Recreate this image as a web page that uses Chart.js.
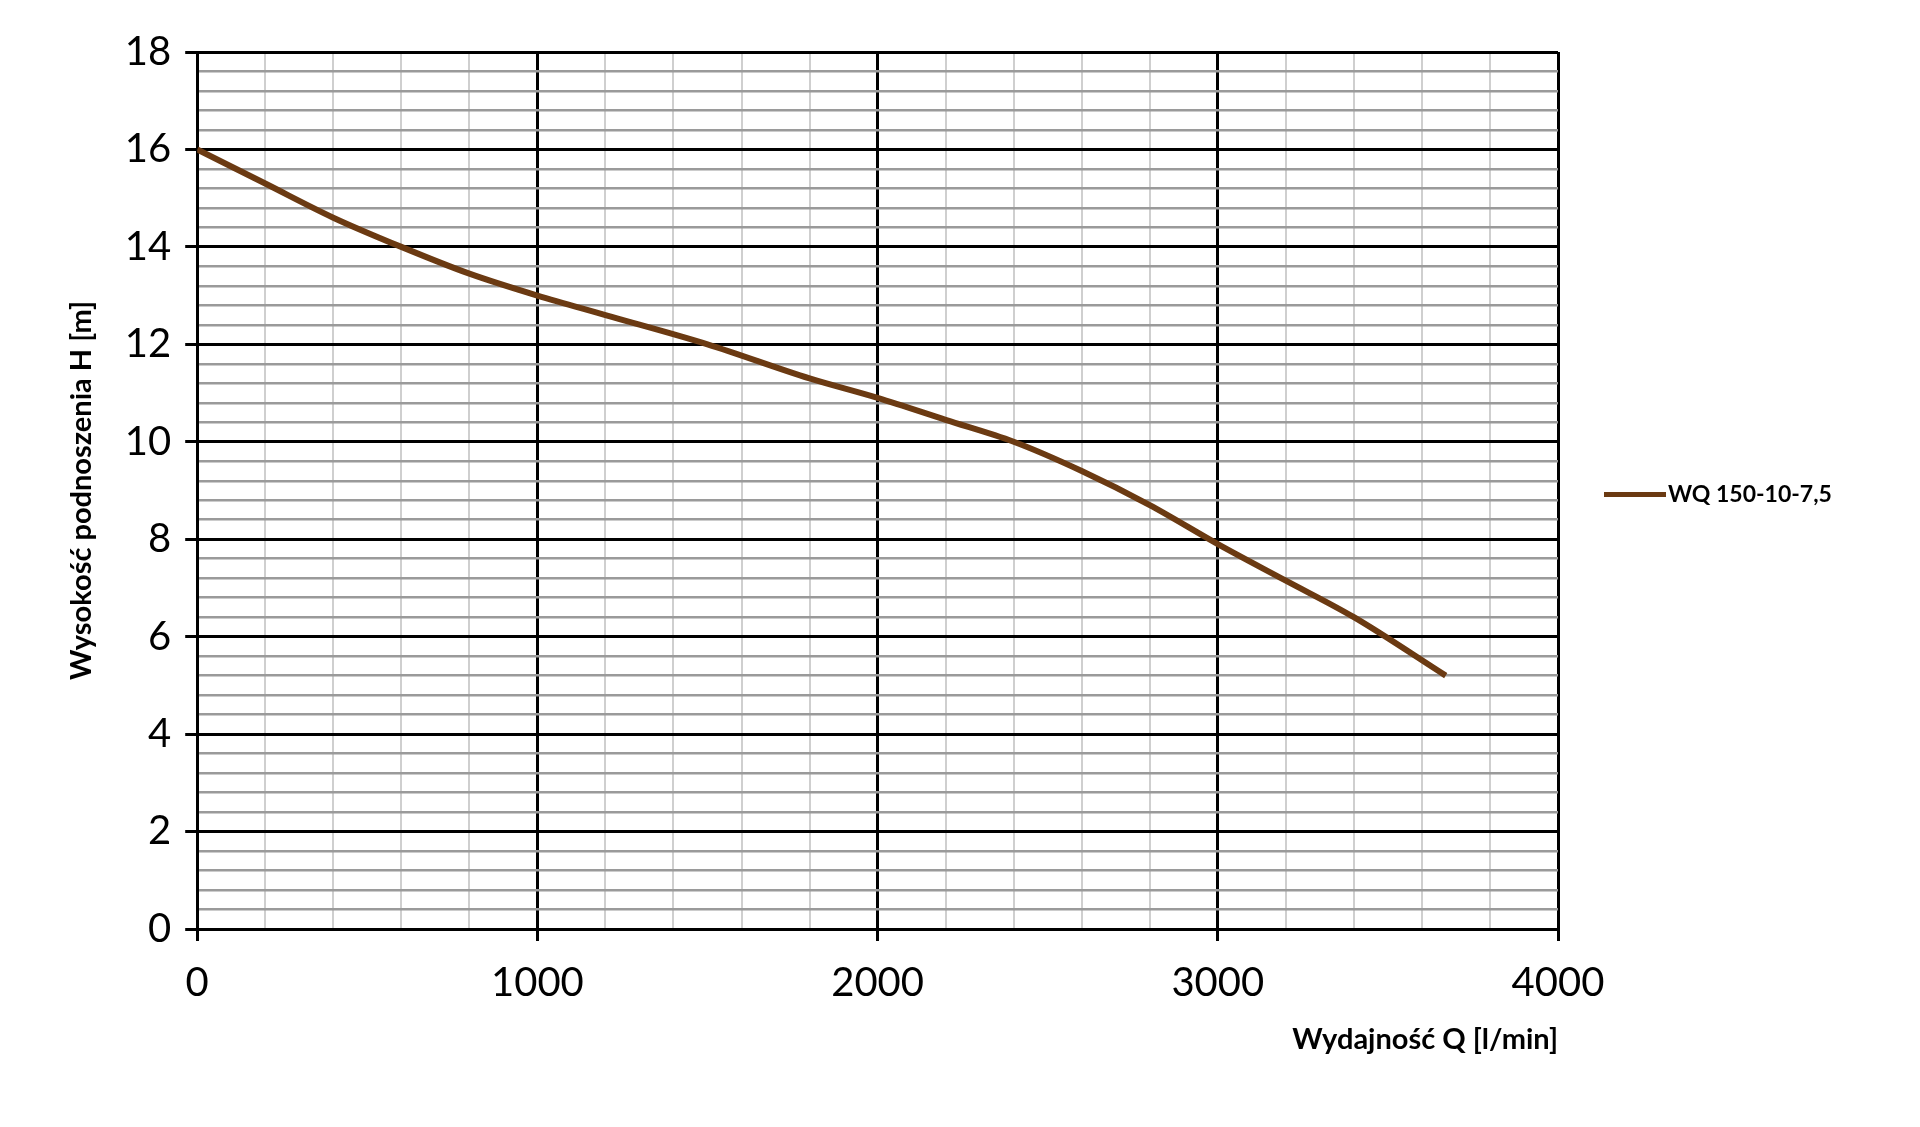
<!DOCTYPE html>
<html>
<head>
<meta charset="utf-8">
<script src="https://cdn.jsdelivr.net/npm/chart.js@4"></script>
<style>
html, body { margin: 0; padding: 0; background: #fff; }
#wrap { width: 1920px; height: 1127px; }
</style>
</head>
<body>
<div id="wrap"><canvas id="pumpChart"></canvas></div>
<script>
const seriesName = "WQ 150-10-7,5";
const flowQ = [0, 200, 400, 600, 800, 1000, 1200, 1500, 1800, 2000, 2200, 2400, 2600, 2800, 3000, 3200, 3400, 3670];
const headH = [16, 15.3, 14.6, 14, 13.45, 13, 12.6, 12, 11.3, 10.9, 10.45, 10, 9.4, 8.7, 7.9, 7.15, 6.4, 5.2];
const xTicks = [0, 1000, 2000, 3000, 4000];
const yTicks = [0, 2, 4, 6, 8, 10, 12, 14, 16, 18];

const lineColor = "#6b3a12";
const tickFont = { family: "Lato", size: 40 };
const titleFont = { family: "Lato", size: 29, weight: "bold", lineHeight: 1 };

const isMajor = (v, list) => list.some(t => Math.abs(t - v) < 1e-6);

// legend drawn to the right of the plot, like the original
const sideLegend = {
    id: "sideLegend",
    afterDraw(chart) {
        const c = chart.ctx;
        const a = chart.chartArea;
        const y = (a.top + a.bottom) / 2 + 4;
        const x = a.right + 46;
        c.save();
        c.strokeStyle = lineColor;
        c.lineWidth = 5;
        c.beginPath();
        c.moveTo(x, y);
        c.lineTo(x + 62, y);
        c.stroke();
        c.fillStyle = "#000";
        c.font = "bold 23px Lato";
        c.textBaseline = "middle";
        c.fillText(chart.data.datasets[0].label, x + 64, y);
        c.restore();
    },
};

const ctx = document.getElementById("pumpChart").getContext("2d");

new Chart(ctx, {
    type: "line",
    data: {
        datasets: [
            {
                label: seriesName,
                data: flowQ.map((q, i) => ({ x: q, y: headH[i] })),
                borderColor: lineColor,
                backgroundColor: lineColor,
                borderWidth: 6,
                pointRadius: 0,
                cubicInterpolationMode: "monotone",
            },
        ],
    },
    plugins: [sideLegend],
    options: {
        responsive: true,
        maintainAspectRatio: false,
        animation: false,
        layout: { padding: { top: 52, right: 362, bottom: 69, left: 60 } },
        plugins: {
            legend: { display: false },
            tooltip: { enabled: false },
        },
        scales: {
            x: {
                type: "linear",
                min: 0,
                max: 4000,
                afterBuildTicks: axis => {
                    axis.ticks = [];
                    for (let v = 0; v <= 4000; v += 200) axis.ticks.push({ value: v });
                },
                ticks: {
                    color: "#000",
                    font: tickFont,
                    autoSkip: false,
                    maxRotation: 0,
                    padding: 18,
                    callback: v => (isMajor(v, xTicks) ? v : ""),
                },
                grid: {
                    color: c => (isMajor(c.tick.value, xTicks) ? "#000" : "#cfcfcf"),
                    lineWidth: c => (isMajor(c.tick.value, xTicks) ? 3 : 2),
                    tickLength: 12,
                    tickColor: c => (isMajor(c.tick.value, xTicks) ? "#000" : "rgba(0,0,0,0)"),
                },
                border: { color: "#000", width: 3 },
                title: {
                    display: true,
                    text: "Wydajność Q [l/min]",
                    align: "end",
                    color: "#000",
                    font: titleFont,
                    padding: { top: 0 },
                },
            },
            y: {
                type: "linear",
                min: 0,
                max: 18,
                afterBuildTicks: axis => {
                    axis.ticks = [];
                    for (let i = 0; i <= 45; i++) axis.ticks.push({ value: Math.round(i * 0.4 * 10) / 10 });
                },
                ticks: {
                    color: "#000",
                    font: tickFont,
                    autoSkip: false,
                    padding: 14,
                    callback: v => (isMajor(v, yTicks) ? v : ""),
                },
                grid: {
                    color: c => (isMajor(c.tick.value, yTicks) ? "#000" : "#9a9a9a"),
                    lineWidth: c => (isMajor(c.tick.value, yTicks) ? 3 : 2.5),
                    tickLength: 12,
                    tickColor: c => (isMajor(c.tick.value, yTicks) ? "#000" : "rgba(0,0,0,0)"),
                },
                border: { color: "#000", width: 3 },
                title: {
                    display: true,
                    text: "Wysokość podnoszenia H [m]",
                    color: "#000",
                    font: { family: "Lato", size: 29, weight: "bold" },
                    padding: { bottom: 12 },
                },
            },
        },
    },
});
</script>
</body>
</html>
